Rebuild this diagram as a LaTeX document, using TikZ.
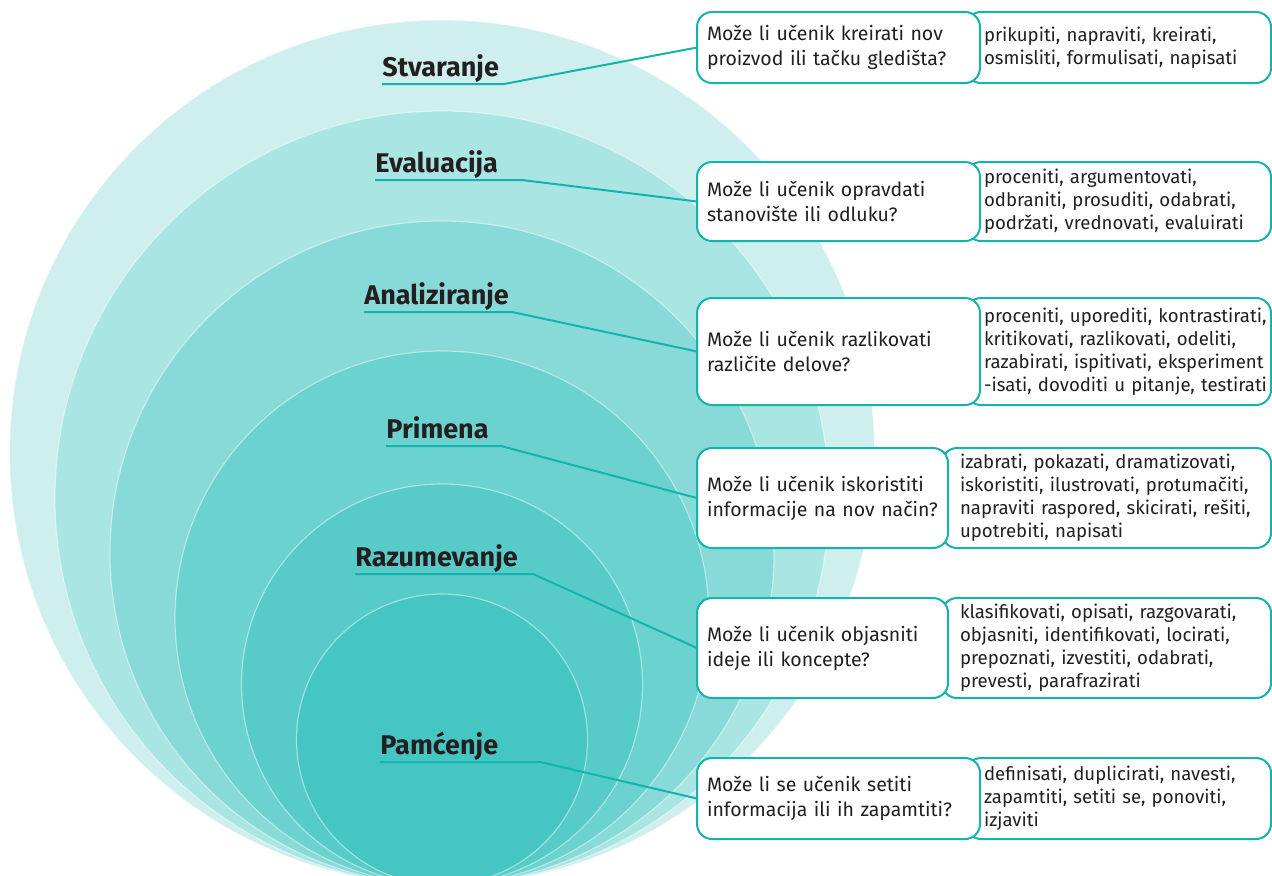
\documentclass[tikz,border=0pt]{standalone}
\usepackage{fontspec}
\setmainfont{Fira Sans}
\usetikzlibrary{positioning}
\definecolor{ring1}{HTML}{CEEFEE}
\definecolor{ring2}{HTML}{A9E5E3}
\definecolor{ring3}{HTML}{87DAD8}
\definecolor{ring4}{HTML}{6BD2CF}
\definecolor{ring5}{HTML}{56CBC8}
\definecolor{ring6}{HTML}{45C6C3}
\definecolor{tealline}{HTML}{14B4AE}
\definecolor{ink}{HTML}{231F20}
\tikzset{
  ring/.style={fill=#1,draw=white,draw opacity=0.45,line width=0.6pt},
  level/.style={font=\fontsize{13.5}{16}\selectfont\bfseries,text=ink,
    inner sep=0pt,anchor=base west},
  link/.style={draw=tealline,line width=1pt},
  ask/.style={draw=tealline,line width=1pt,fill=white,rounded corners=7.5pt,
    text width=#1,inner xsep=5pt,inner ysep=2pt,outer sep=0pt,align=left,
    font=\fontsize{9.75}{12.5}\selectfont,text=ink},
  verbs/.style={draw=tealline,line width=1pt,fill=white,rounded corners=7.5pt,
    text width=#1,inner xsep=0pt,inner ysep=2pt,outer sep=0pt,align=left,anchor=west,
    font=\fontsize{9.3}{11.5}\selectfont,text=ink,
    execute at begin node={\leftskip=9pt\relax}},
}
\begin{document}
\begin{tikzpicture}[x=0.5pt,y=-0.5pt]
  \useasboundingbox (0,0) rectangle (1272,875);
  \clip (0,0) rectangle (1272,875);
  % nested rings, all resting on the same bottom point
  \foreach \r/\c in {432.5/ring1,387/ring2,332/ring3,267/ring4,200.5/ring5,145.5/ring6}
    \draw[ring=\c] (442,885-\r) circle (\r);

  % answer boxes first, question boxes on top
  \node[verbs=152.5pt,minimum height=35.5pt] (a1) at (966,47.5)
    {prikupiti, napraviti, kreirati,\\osmisliti, formulisati, napisati};
  \node[ask=131.5pt,minimum height=35.5pt,left=-7pt of a1] (q1)
    {Može li učenik kreirati nov\\proizvod ili tačku gledišta?};

  \node[verbs=152.5pt,minimum height=39.5pt] (a2) at (966,201.5)
    {proceniti, argumentovati,\\odbraniti, prosuditi, odabrati,\\podržati, vrednovati, evaluirati};
  \node[ask=131.5pt,minimum height=39.5pt,left=-7pt of a2] (q2)
    {Može li učenik opravdati\\stanovište ili odluku?};

  \node[verbs=152.5pt,minimum height=53.5pt] (a3) at (966,351.5)
    {proceniti, uporediti, kontrastirati,\\kritikovati, razlikovati, odeliti,\\razabirati, ispitivati, eksperiment\\-isati, dovoditi u pitanje, testirati};
  \node[ask=131.5pt,minimum height=53.5pt,left=-7pt of a3] (q3)
    {Može li učenik razlikovati\\različite delove?};

  \node[verbs=164.5pt,minimum height=50pt] (a4) at (942,498)
    {izabrati, pokazati, dramatizovati,\\iskoristiti, ilustrovati, protumačiti,\\napraviti raspored, skicirati, rešiti,\\upotrebiti, napisati};
  \node[ask=115.5pt,minimum height=50pt,left=-3pt of a4] (q4)
    {Može li učenik iskoristiti\\informacije na nov način?};

  \node[verbs=164.5pt,minimum height=50pt] (a5) at (942,648)
    {klasifikovati, opisati, razgovarati,\\objasniti, identifikovati, locirati,\\prepoznati, izvestiti, odabrati,\\prevesti, parafrazirati};
  \node[ask=115.5pt,minimum height=50pt,left=-3pt of a5] (q5)
    {Može li učenik objasniti\\ideje ili koncepte?};

  \node[verbs=152.5pt,minimum height=40.5pt] (a6) at (966,798.5)
    {definisati, duplicirati, navesti,\\zapamtiti, setiti se, ponoviti,\\izjaviti};
  \node[ask=131.5pt,minimum height=40.5pt,left=-7pt of a6] (q6)
    {Može li se učenik setiti\\informacija ili ih zapamtiti?};

  % level names with their underlines
  \node[level] (stv) at (382,76) {Stvaranje};
  \node[level] (eva) at (375,172) {Evaluacija};
  \node[level] (ana) at (364,304) {Analiziranje};
  \node[level] (pri) at (386,438) {Primena};
  \node[level] (raz) at (355,566) {Razumevanje};
  \node[level] (pam) at (380,754) {Pamćenje};

  \draw[link] ([yshift=-4pt]stv.base west) -- ++(122,0) -- (q1.west);
  \draw[link] ([yshift=-4pt]eva.base west) -- ++(147,0) -- (q2.west);
  \draw[link] ([yshift=-4pt]ana.base west) -- ++(148,0) -- (q3.west);
  \draw[link] ([yshift=-4pt]pri.base west) -- ++(115,0) -- (q4.west);
  \draw[link] ([yshift=-4pt]raz.base west) -- ++(178,0) -- (q5.west);
  \draw[link] ([yshift=-4pt]pam.base west) -- ++(160,0) -- (q6.west);
\end{tikzpicture}
\end{document}
